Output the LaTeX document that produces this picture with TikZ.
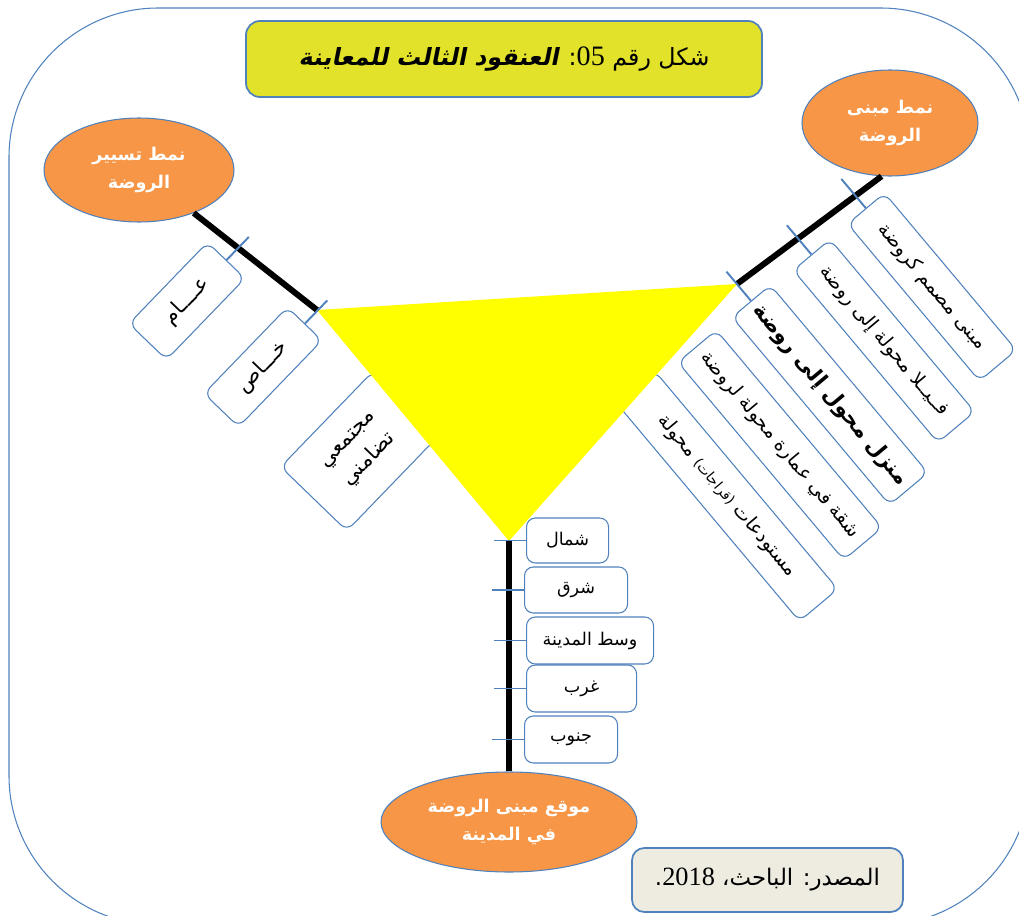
\documentclass[tikz,border=0pt]{standalone}
\usepackage{fontspec}
\setmainfont{Liberation Serif}
\newfontfamily\ar[Script=Arabic]{DejaVu Sans}
\newfontfamily\arbi[Script=Arabic,FakeSlant=0.2]{DejaVu Sans Bold}
\TeXXeTstate=1
\usetikzlibrary{shapes.geometric,calc}
\newdimen\pxu \pxu=0.02cm
\definecolor{frameblue}{HTML}{4F81BD}
\definecolor{orangefill}{HTML}{F79646}
\definecolor{titlefill}{HTML}{E2E22A}
\definecolor{srcfill}{HTML}{EEECE1}
\definecolor{pureyellow}{HTML}{FFFF00}
\tikzset{
  oval/.style={ellipse, draw=frameblue, fill=orangefill, line width=0.6pt, inner sep=0pt,
    text=white, align=center, font=\ar\bfseries\fontsize{10}{16}\selectfont},
  cat/.style={draw=frameblue, fill=white, line width=0.6pt, rounded corners=5pt,
    inner sep=0pt, align=center, font=\ar\fontsize{10}{14}\selectfont},
  leftcat/.style={cat, rotate=46, font=\ar\fontsize{12}{17}\selectfont},
  rightcat/.style={cat, rotate=-50, font=\ar\fontsize{11}{14}\selectfont},
  spine/.style={black, line width=3.4pt},
  tickmark/.style={frameblue, line width=1.1pt},
}
\begin{document}
\begin{tikzpicture}[x=0.02cm, y=-0.02cm]
\useasboundingbox (0,0) rectangle (1019,916);
\clip (0,0) rectangle (1019,916);

% outer frame
\draw[frameblue, line width=0.6pt, rounded corners=85pt] (9,8) rectangle (1030,925);

% title
\node[draw=frameblue, fill=titlefill, line width=1pt, rounded corners=8pt,
  minimum width=516\pxu, minimum height=76\pxu, inner sep=0pt,
  font=\ar\fontsize{13.5}{18}\selectfont] (title) at (504,59)
  {\beginR شكل رقم \beginL{\rmfamily\fontsize{16}{18}\selectfont 05}\endL: {\arbi العنقود الثالث للمعاينة}\endR};

% the three families
\node[oval, minimum width=190\pxu, minimum height=104\pxu] (lell) at (139,170)
  {\beginR نمط تسيير\endR\\\beginR الروضة\endR};
\node[oval, minimum width=176\pxu, minimum height=106\pxu] (rell) at (890,123)
  {\beginR نمط مبنى\endR\\\beginR الروضة\endR};
\node[oval, minimum width=256\pxu, minimum height=100\pxu] (bell) at (509,822)
  {\beginR موقع مبنى  الروضة\endR\\\beginR في المدينة\endR};

% management type
\node[leftcat, minimum width=113\pxu, minimum height=52\pxu] (l1) at (187,301)
  {\beginR عــــام\endR};
\node[leftcat, minimum width=120\pxu, minimum height=48\pxu] (l2) at (263,367)
  {\beginR خـــاص\endR};
\node[leftcat, minimum width=133\pxu, minimum height=92\pxu] (l3) at (360,451)
  {\beginR مجتمعي\endR\\\beginR تضامني\endR};

% building type
\node[rightcat, minimum width=205\pxu, minimum height=48\pxu] (r1) at (932,287)
  {\beginR مبنى مصمم كروضة\endR};
\node[rightcat, minimum width=225\pxu, minimum height=48\pxu] (r2) at (884,341)
  {\beginR فــيــلا محولة إلى روضة\endR};
\node[rightcat, minimum width=245\pxu, minimum height=50\pxu,
  font=\ar\bfseries\fontsize{12}{15}\selectfont] (r3) at (830,395)
  {\beginR منزل محول إلى روضة\endR};
\node[rightcat, minimum width=258\pxu, minimum height=50\pxu] (r4) at (780,445)
  {\beginR شقة في عمارة محولة لروضة\endR};
\node[rightcat, minimum width=285\pxu, minimum height=50\pxu] (r5) at (727,496)
  {\beginR مستودعات {\fontsize{8}{10}\selectfont(قراجات)} محولة\endR};

% location in the city
\node[cat, anchor=west, minimum width=82\pxu, minimum height=45\pxu] (b1) at (526,540.5)
  {\beginR شمال\endR};
\node[cat, anchor=west, minimum width=103\pxu, minimum height=46\pxu] (b2) at (524,590)
  {\beginR شرق\endR};
\node[cat, anchor=west, minimum width=127\pxu, minimum height=47\pxu] (b3) at (526,640.5)
  {\beginR وسط المدينة\endR};
\node[cat, anchor=west, minimum width=110\pxu, minimum height=47\pxu] (b4) at (526,688.5)
  {\beginR غرب\endR};
\node[cat, anchor=west, minimum width=93\pxu, minimum height=47\pxu] (b5) at (524,739.5)
  {\beginR جنوب\endR};

% central triangle
\coordinate (tl) at (317,310);
\coordinate (tr) at (737,284);
\coordinate (tb) at (509,541);
\fill[pureyellow] (tl) -- (tr) -- (tb) -- cycle;

% spines
\draw[spine] (lell) -- (tl);
\draw[spine] (rell.261) -- (tr);
\draw[spine] (tb) -- (bell.north);

% ticks
\draw[tickmark] (l1.east) -- ($(l1.east)!-32\pxu!(l1.center)$);
\draw[tickmark] (l2.east) -- ($(l2.east)!-32\pxu!(l2.center)$);
\draw[tickmark] (r1.west) -- ($(r1.west)!-38\pxu!(r1.center)$);
\draw[tickmark] (r2.west) -- ($(r2.west)!-38\pxu!(r2.center)$);
\draw[tickmark] (r3.west) -- ($(r3.west)!-38\pxu!(r3.center)$);
\foreach \b in {b1,b2,b3,b4,b5}
  \draw[tickmark] (\b.west) -- ++(-32,0);

% source
\node[draw=frameblue, fill=srcfill, line width=1pt, rounded corners=7pt,
  minimum width=271\pxu, minimum height=64\pxu, inner sep=0pt,
  font=\ar\fontsize{13}{16}\selectfont] (src) at (767.5,880)
  {\beginR المصدر: الباحث، \beginL{\rmfamily\fontsize{15}{16}\selectfont 2018}\endL.\endR};
\end{tikzpicture}
\end{document}
